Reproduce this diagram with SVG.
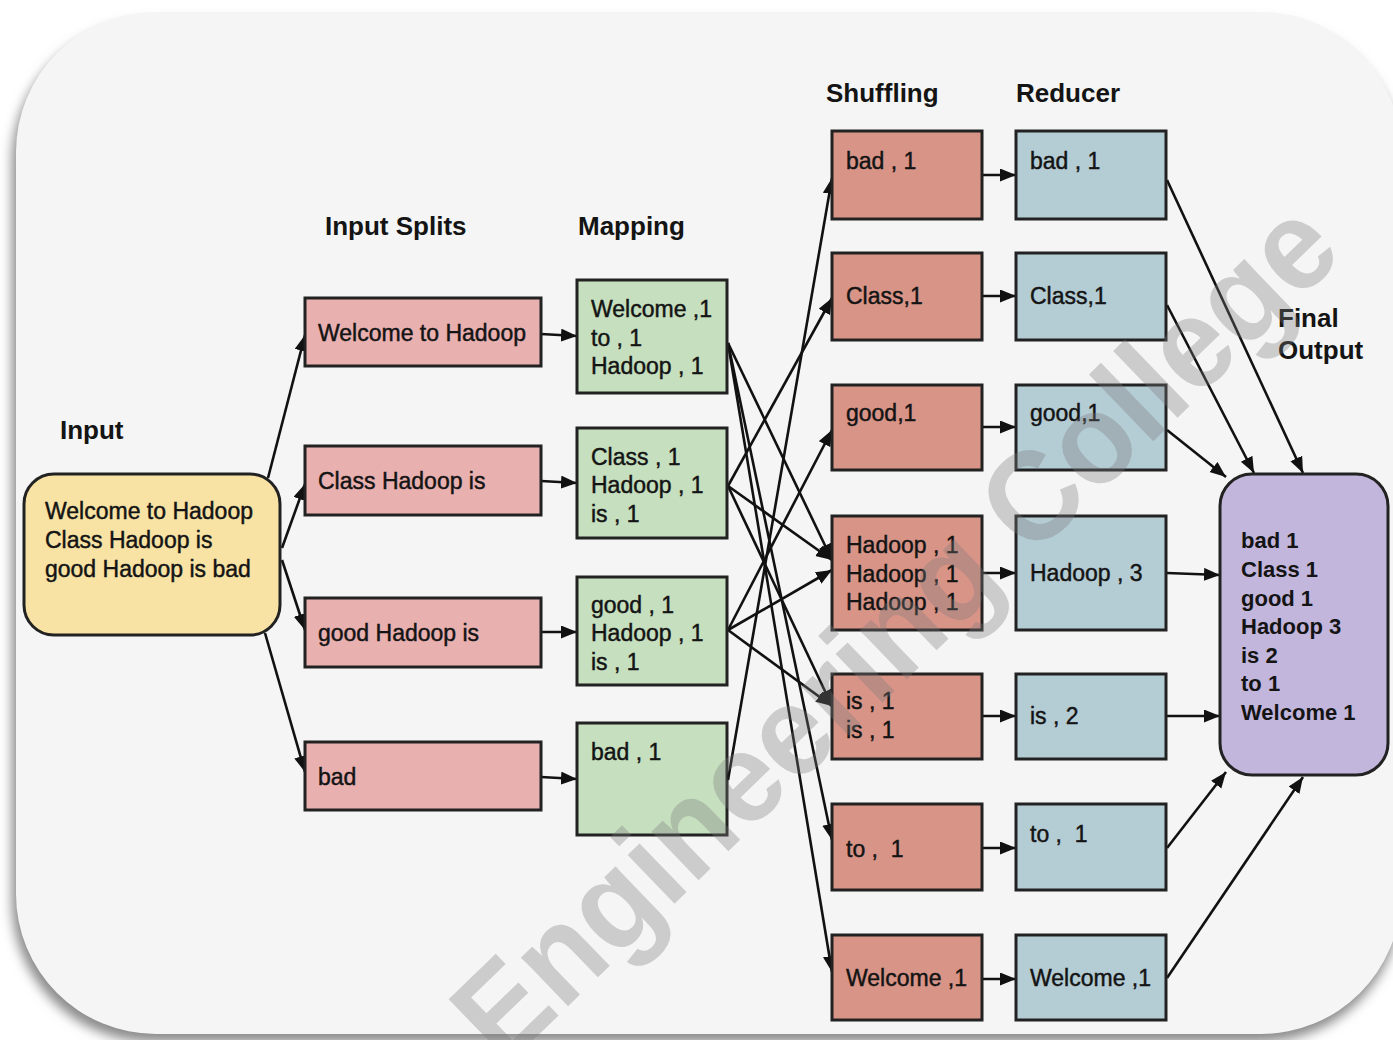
<svg xmlns="http://www.w3.org/2000/svg" width="1393" height="1040" viewBox="0 0 1393 1040">
<defs>
<style>
.t{font-family:"Liberation Sans",Arial,sans-serif;font-size:23px;fill:#141414;stroke:#141414;stroke-width:0.45px;white-space:pre}
.h{font-family:"Liberation Sans",Arial,sans-serif;font-size:26px;font-weight:bold;fill:#141414}
.f{font-family:"Liberation Sans",Arial,sans-serif;font-size:22px;font-weight:bold;fill:#141414}
.box{stroke:#222;stroke-width:3}
.sp{fill:#e9b0b0}
.mp{fill:#c6dfbf}
.sh{fill:#d99488}
.rd{fill:#b4ccd4}
.c{fill:none;stroke:#111;stroke-width:2.6;marker-end:url(#ah)}
.wm{font-family:"Liberation Sans",Arial,sans-serif;font-size:128px;font-weight:bold;fill:#7a7a7a;opacity:0.33}
</style>
<marker id="ah" markerUnits="userSpaceOnUse" markerWidth="18" markerHeight="14" refX="16" refY="6.5" orient="auto">
<path d="M0,0 L16,6.5 L0,13 Z" fill="#111"/>
</marker>
<filter id="sh" x="-5%" y="-5%" width="110%" height="110%">
<feGaussianBlur stdDeviation="6"/>
</filter>
</defs>
<rect width="1393" height="1040" fill="#ffffff"/>
<g id="card">
<rect x="12" y="22" width="1388" height="1020" rx="140" fill="#8a8a8a" filter="url(#sh)"/>
<rect x="16" y="12" width="1385" height="1022" rx="140" fill="#f5f5f5"/>
</g>

<g id="labels">
<text class="h" x="60" y="439">Input</text>
<text class="h" x="325" y="235">Input Splits</text>
<text class="h" x="578" y="235">Mapping</text>
<text class="h" x="826" y="102">Shuffling</text>
<text class="h" x="1016" y="102">Reducer</text>
<text class="h" x="1278" y="327">Final</text>
<text class="h" x="1278" y="359">Output</text>
</g>

<g id="connectors">
<line class="c" x1="268" y1="478" x2="305" y2="335"/>
<line class="c" x1="282" y1="548" x2="305" y2="484"/>
<line class="c" x1="282" y1="560" x2="305" y2="630"/>
<line class="c" x1="265" y1="633" x2="305" y2="772"/>
<line class="c" x1="541" y1="334" x2="577" y2="336"/>
<line class="c" x1="541" y1="481" x2="577" y2="483"/>
<line class="c" x1="541" y1="632" x2="577" y2="632"/>
<line class="c" x1="541" y1="777" x2="577" y2="779"/>
<line class="c" x1="728" y1="343" x2="832" y2="560"/>
<line class="c" x1="728" y1="343" x2="832" y2="840"/>
<line class="c" x1="728" y1="343" x2="832" y2="972"/>
<line class="c" x1="728" y1="486" x2="832" y2="298"/>
<line class="c" x1="728" y1="486" x2="832" y2="560"/>
<line class="c" x1="728" y1="486" x2="832" y2="706"/>
<line class="c" x1="728" y1="630" x2="832" y2="430"/>
<line class="c" x1="728" y1="630" x2="832" y2="570"/>
<line class="c" x1="728" y1="630" x2="832" y2="706"/>
<line class="c" x1="728" y1="780" x2="832" y2="178"/>
<line class="c" x1="982" y1="175" x2="1016" y2="175"/>
<line class="c" x1="982" y1="296" x2="1016" y2="296"/>
<line class="c" x1="982" y1="427" x2="1016" y2="427"/>
<line class="c" x1="982" y1="573" x2="1016" y2="573"/>
<line class="c" x1="982" y1="716" x2="1016" y2="716"/>
<line class="c" x1="982" y1="848" x2="1016" y2="848"/>
<line class="c" x1="982" y1="979" x2="1016" y2="979"/>
<line class="c" x1="1167" y1="180" x2="1303" y2="473"/>
<line class="c" x1="1167" y1="305" x2="1254" y2="473"/>
<line class="c" x1="1167" y1="430" x2="1226" y2="477"/>
<line class="c" x1="1167" y1="573" x2="1220" y2="575"/>
<line class="c" x1="1167" y1="716" x2="1220" y2="716"/>
<line class="c" x1="1167" y1="848" x2="1226" y2="772"/>
<line class="c" x1="1167" y1="978" x2="1303" y2="777"/>
</g>

<g id="input">
<rect class="box" x="24" y="474" width="256" height="161" rx="30" fill="#f9e3a4"/>
<text class="t" x="45" y="519">Welcome to Hadoop</text>
<text class="t" x="45" y="548">Class Hadoop is</text>
<text class="t" x="45" y="577">good Hadoop is bad</text>
</g>

<g id="split1"><rect class="box sp" x="305" y="298" width="236" height="68"/><text class="t" x="318" y="341">Welcome to Hadoop</text></g>
<g id="split2"><rect class="box sp" x="305" y="446" width="236" height="69"/><text class="t" x="318" y="489">Class Hadoop is</text></g>
<g id="split3"><rect class="box sp" x="305" y="598" width="236" height="69"/><text class="t" x="318" y="641">good Hadoop is</text></g>
<g id="split4"><rect class="box sp" x="305" y="742" width="236" height="68"/><text class="t" x="318" y="785">bad</text></g>

<g id="map1"><rect class="box mp" x="577" y="280" width="150" height="113"/>
<text class="t" x="591" y="317">Welcome ,1</text><text class="t" x="591" y="346">to , 1</text><text class="t" x="591" y="374">Hadoop , 1</text></g>
<g id="map2"><rect class="box mp" x="577" y="428" width="150" height="110"/>
<text class="t" x="591" y="465">Class , 1</text><text class="t" x="591" y="493">Hadoop , 1</text><text class="t" x="591" y="522">is , 1</text></g>
<g id="map3"><rect class="box mp" x="577" y="577" width="150" height="108"/>
<text class="t" x="591" y="613">good , 1</text><text class="t" x="591" y="641">Hadoop , 1</text><text class="t" x="591" y="670">is , 1</text></g>
<g id="map4"><rect class="box mp" x="577" y="723" width="150" height="112"/>
<text class="t" x="591" y="760">bad , 1</text></g>

<g id="shuf1"><rect class="box sh" x="832" y="131" width="150" height="88"/><text class="t" x="846" y="169">bad , 1</text></g>
<g id="shuf2"><rect class="box sh" x="832" y="253" width="150" height="87"/><text class="t" x="846" y="304">Class,1</text></g>
<g id="shuf3"><rect class="box sh" x="832" y="385" width="150" height="85"/><text class="t" x="846" y="421">good,1</text></g>
<g id="shuf4"><rect class="box sh" x="832" y="516" width="150" height="114"/>
<text class="t" x="846" y="553">Hadoop , 1</text><text class="t" x="846" y="582">Hadoop , 1</text><text class="t" x="846" y="610">Hadoop , 1</text></g>
<g id="shuf5"><rect class="box sh" x="832" y="674" width="150" height="85"/>
<text class="t" x="846" y="709">is , 1</text><text class="t" x="846" y="738">is , 1</text></g>
<g id="shuf6"><rect class="box sh" x="832" y="804" width="150" height="86"/><text class="t" x="846" y="857" xml:space="preserve">to ,  1</text></g>
<g id="shuf7"><rect class="box sh" x="832" y="935" width="150" height="85"/><text class="t" x="846" y="986">Welcome ,1</text></g>

<g id="red1"><rect class="box rd" x="1016" y="131" width="150" height="88"/><text class="t" x="1030" y="169">bad , 1</text></g>
<g id="red2"><rect class="box rd" x="1016" y="253" width="150" height="87"/><text class="t" x="1030" y="304">Class,1</text></g>
<g id="red3"><rect class="box rd" x="1016" y="385" width="150" height="85"/><text class="t" x="1030" y="421">good,1</text></g>
<g id="red4"><rect class="box rd" x="1016" y="516" width="150" height="114"/><text class="t" x="1030" y="581">Hadoop , 3</text></g>
<g id="red5"><rect class="box rd" x="1016" y="674" width="150" height="85"/><text class="t" x="1030" y="724">is , 2</text></g>
<g id="red6"><rect class="box rd" x="1016" y="804" width="150" height="86"/><text class="t" x="1030" y="842" xml:space="preserve">to ,  1</text></g>
<g id="red7"><rect class="box rd" x="1016" y="935" width="150" height="85"/><text class="t" x="1030" y="986">Welcome ,1</text></g>

<g id="final">
<rect class="box" x="1220" y="474" width="168" height="301" rx="32" fill="#c3b6dc"/>
<text class="f" x="1241" y="548">bad 1</text>
<text class="f" x="1241" y="577">Class 1</text>
<text class="f" x="1241" y="606">good 1</text>
<text class="f" x="1241" y="634">Hadoop 3</text>
<text class="f" x="1241" y="663">is 2</text>
<text class="f" x="1241" y="691">to 1</text>
<text class="f" x="1241" y="720">Welcome 1</text>
</g>

<g id="watermark">
<text class="wm" x="897" y="673" text-anchor="middle" textLength="1170" lengthAdjust="spacingAndGlyphs" transform="rotate(-44 897 633)">Engineering College</text>
</g>
</svg>
